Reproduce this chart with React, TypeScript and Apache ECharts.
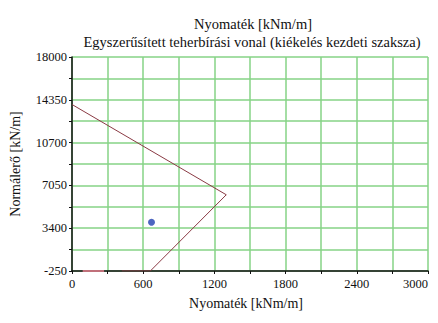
import React, { useEffect, useRef } from "react";
import * as echarts from "echarts";

const chartTitle = "Nyomaték [kNm/m]";
const chartSubtitle = "Egyszerűsített teherbírási vonal (kiékelés kezdeti szaksza)";
const xName = "Nyomaték [kNm/m]";
const yName = "Normálerő [kN/m]";

// capacity line (moment, normal force)
const capM = [0, 1300, 660, 420];
const capN = [13950, 6250, -250, -250];
// short segment along the bottom
const baseM = [90, 270];
const baseN = [-250, -250];
// load point
const pointM = [670];
const pointN = [3900];

const xMin = 0, xMax = 3000, xStep = 300, xLabelStep = 600;
const yMin = -250, yMax = 18000, yStep = 1825;

const FONT = "'Liberation Serif', 'Times New Roman', serif";

export default function App() {
  const ref = useRef<HTMLDivElement>(null);
  useEffect(() => {
    if (!ref.current) return;
    const chart = echarts.init(ref.current, null, { renderer: "svg" });
    const grid = "#86d386";
    chart.setOption({
      animation: false,
      backgroundColor: "#ffffff",
      textStyle: { fontFamily: FONT },
      title: [
        { text: chartTitle, left: 248, top: 11, textAlign: "center",
          textStyle: { fontFamily: FONT, fontSize: 14.5, fontWeight: "normal", color: "#111" } },
        { text: chartSubtitle, left: 247, top: 29, textAlign: "center",
          textStyle: { fontFamily: FONT, fontSize: 14.5, fontWeight: "normal", color: "#111" } },
        { text: xName, left: 241, top: 291, textAlign: "center",
          textStyle: { fontFamily: FONT, fontSize: 14, fontWeight: "normal", color: "#111" } },
      ],
      grid: { left: 71, right: 10, top: 57, bottom: 52, containLabel: false },
      xAxis: {
        type: "value", min: xMin, max: xMax, interval: xStep,
        axisLine: { show: true, onZero: false, lineStyle: { color: "#111", width: 1.5 } },
        axisTick: { show: true, length: 3, lineStyle: { color: "#111" } },
        axisLabel: {
          fontFamily: FONT, fontSize: 12.5, color: "#111", margin: 6,
          alignMaxLabel: "right",
          formatter: (v: number) => (v % xLabelStep === 0 ? String(v) : ""),
        },
        splitLine: { show: true, lineStyle: { color: grid, width: 1.5 } },
      },
      yAxis: {
        type: "value", min: yMin, max: yMax, interval: yStep,
        name: yName, nameLocation: "middle", nameGap: 50,
        nameTextStyle: { fontFamily: FONT, fontSize: 14, color: "#111" },
        axisLine: { show: true, onZero: false, lineStyle: { color: "#111", width: 1.5 } },
        axisTick: { show: true, length: 3, lineStyle: { color: "#111" } },
        axisLabel: {
          fontFamily: FONT, fontSize: 12.5, color: "#111", margin: 5,
          formatter: (v: number) => (Math.round((v - yMin) / yStep) % 2 === 0 ? String(v) : ""),
        },
        splitLine: { show: true, lineStyle: { color: grid, width: 1.5 } },
      },
      series: [
        {
          type: "line", data: capM.map((m, i) => [m, capN[i]]),
          symbol: "none", lineStyle: { color: "#8a3a44", width: 1 }, z: 3,
        },
        {
          type: "line", data: baseM.map((m, i) => [m, baseN[i]]),
          symbol: "none", lineStyle: { color: "#c0707a", width: 2 }, z: 3,
        },
        {
          type: "scatter", data: pointM.map((m, i) => [m, pointN[i]]),
          symbol: "circle", symbolSize: 7, itemStyle: { color: "#1f3fb0" }, z: 4,
        },
      ],
    });
    return () => chart.dispose();
  }, []);
  return <div ref={ref} style={{ width: 438, height: 323, margin: -8 }} />;
}
